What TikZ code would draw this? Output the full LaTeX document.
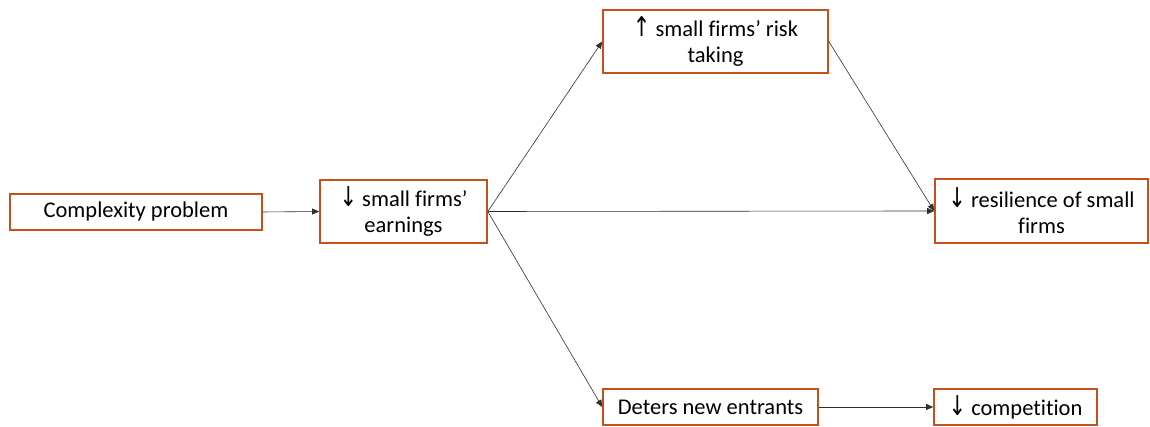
\documentclass[tikz,border=0pt]{standalone}
\usepackage{fontspec}
\setmainfont[Ligatures=NoCommon]{Carlito}
\newfontfamily\arrowfont{DejaVu Sans}
\usetikzlibrary{arrows.meta}
\definecolor{boxorange}{HTML}{C4501A}
\definecolor{linegray}{HTML}{303030}
\tikzset{
  fbox/.style={draw=boxorange, line width=1.6pt, fill=white, inner sep=0pt, align=center,
    font=\fontsize{22.5}{26}\selectfont},
  conn/.style={draw=linegray, line width=0.6pt, -{Triangle[length=7pt,width=6pt]}}
}
\newcommand{\dn}{{\arrowfont\fontsize{21}{26}\selectfont\scalebox{1}[1.3]{↓}}}
\newcommand{\up}{{\arrowfont\fontsize{21}{26}\selectfont\scalebox{1}[1.3]{↑}}}
\begin{document}
\begin{tikzpicture}[x=1pt,y=1pt]
\useasboundingbox (0,0) rectangle (1150,427);
\node[fbox, minimum width=252pt, minimum height=36pt] (A) at (136,215) {Complexity problem};
\node[fbox, minimum width=167pt, minimum height=63pt] (B) at (403.5,215.5) {\dn\ small firms’\\earnings};
\node[fbox, minimum width=225pt, minimum height=63pt] (C) at (715.5,385.5) {\up\ small firms’ risk\\taking};
\node[fbox, minimum width=213pt, minimum height=64pt] (D) at (1041.5,216) {\dn\ resilience of small\\firms};
\node[fbox, minimum width=215pt, minimum height=36pt] (E) at (710.5,20) {Deters new entrants};
\node[fbox, minimum width=163pt, minimum height=36pt] (F) at (1015.5,20) {\dn\ competition};
\draw[conn] (A.east) -- (B.west);
\draw[conn] (B.east) -- (C.west);
\draw[conn] (B.east) -- (D.west);
\draw[conn] (B.east) -- (E.west);
\draw[conn] (C.east) -- (D.west);
\draw[conn] (E.east) -- (F.west);
\end{tikzpicture}
\end{document}
